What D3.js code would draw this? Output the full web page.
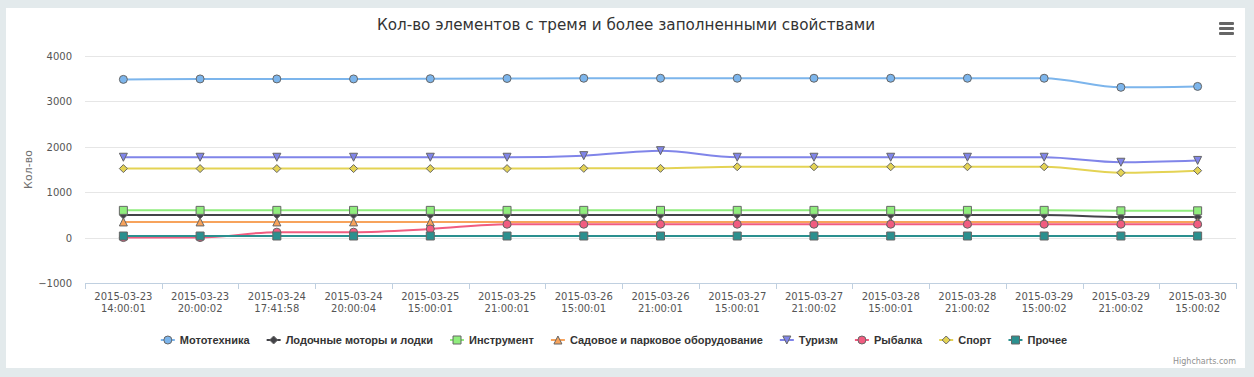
<!DOCTYPE html>
<html>
<head>
<meta charset="utf-8">
<script src="https://cdn.jsdelivr.net/npm/d3@7"></script>
<style>
  html, body { margin: 0; padding: 0; background: #e3eaec; }
  svg { display: block; }
</style>
</head>
<body>
<svg id="chart" width="1254" height="377"></svg>
<script>
// categories (two-line labels)
const dates = ["2015-03-23", "2015-03-23", "2015-03-24", "2015-03-24", "2015-03-25", "2015-03-25", "2015-03-26",
    "2015-03-26", "2015-03-27", "2015-03-27", "2015-03-28", "2015-03-28", "2015-03-29", "2015-03-29", "2015-03-30"];
const times = ["14:00:01", "20:00:02", "17:41:58", "20:00:04", "15:00:01", "21:00:01", "15:00:01",
    "21:00:01", "15:00:01", "21:00:02", "15:00:01", "21:00:02", "15:00:02", "21:00:02", "15:00:02"];

const seriesNames = ["Мототехника", "Лодочные моторы и лодки", "Инструмент", "Садовое и парковое оборудование",
    "Туризм", "Рыбалка", "Спорт", "Прочее"];
const seriesColors = ["#7cb5ec", "#434348", "#90ed7d", "#f7a35c", "#8085e9", "#f15c80", "#e4d354", "#2b908f"];
const seriesSymbols = ["circle", "diamond", "square", "triangle", "triangle-down", "circle", "diamond", "square"];

const moto = [3485, 3495, 3495, 3495, 3500, 3505, 3510, 3510, 3510, 3510, 3510, 3510, 3510, 3310, 3330];
const boats = [500, 500, 500, 500, 500, 500, 500, 500, 500, 500, 500, 500, 500, 455, 455];
const tools = [600, 600, 600, 600, 600, 600, 600, 600, 600, 600, 600, 600, 600, 590, 590];
const garden = [345, 345, 345, 345, 345, 345, 345, 345, 345, 345, 345, 345, 345, 345, 345];
const tourism = [1770, 1770, 1770, 1770, 1770, 1770, 1805, 1915, 1770, 1770, 1770, 1770, 1770, 1660, 1700];
const fishing = [0, 0, 120, 120, 190, 295, 295, 295, 295, 295, 295, 295, 295, 295, 295];
const sport = [1520, 1520, 1520, 1520, 1520, 1520, 1525, 1525, 1560, 1560, 1560, 1560, 1560, 1430, 1475];
const other = [35, 35, 35, 35, 35, 35, 35, 35, 35, 35, 35, 35, 35, 35, 35];

const seriesValues = [moto, boats, tools, garden, tourism, fishing, sport, other];
const yTicks = [-1000, 0, 1000, 2000, 3000, 4000];

const svg = d3.select("#chart"),
    W = 1254, H = 377,
    plot = { left: 85, right: 1236, top: 56, bottom: 283 },
    font = "'DejaVu Sans', Verdana, sans-serif";

// white panel
svg.append("rect")
    .attr("x", 6).attr("y", 8)
    .attr("width", 1239).attr("height", 360)
    .attr("fill", "#fff");

const x = d3.scaleBand()
    .domain(d3.range(dates.length))
    .range([plot.left, plot.right]);
const y = d3.scaleLinear()
    .domain([-1000, 4000])
    .range([plot.bottom, plot.top]);

// title
svg.append("text")
    .attr("x", 626).attr("y", 30)
    .attr("text-anchor", "middle")
    .attr("font-family", font)
    .attr("font-size", 15.2)
    .attr("fill", "#333")
    .text("Кол-во элементов с тремя и более заполненными свойствами");

// export menu icon
[0, 5, 10].forEach(dy => {
    svg.append("rect")
        .attr("x", 1219).attr("y", 22 + dy)
        .attr("width", 15).attr("height", 3)
        .attr("rx", 1)
        .attr("fill", "#666");
});

// grid lines
svg.append("g").selectAll("line")
    .data(yTicks.filter(t => t !== -1000))
    .enter().append("line")
    .attr("x1", plot.left).attr("x2", plot.right)
    .attr("y1", d => Math.round(y(d)) + 0.5).attr("y2", d => Math.round(y(d)) + 0.5)
    .attr("stroke", "#e6e6e6")
    .attr("stroke-width", 1);

// y labels
svg.append("g").selectAll("text")
    .data(yTicks)
    .enter().append("text")
    .attr("x", 72)
    .attr("y", d => y(d) + 4)
    .attr("text-anchor", "end")
    .attr("font-family", font)
    .attr("font-size", 10)
    .attr("fill", "#555")
    .text(d => d === -1000 ? "−1000" : d);

// y axis title
svg.append("text")
    .attr("transform", "translate(32," + ((plot.top + plot.bottom) / 2) + ") rotate(-90)")
    .attr("text-anchor", "middle")
    .attr("font-family", font)
    .attr("font-size", 11)
    .attr("fill", "#707070")
    .text("Кол-во");

// x axis
const xAxis = svg.append("g");
xAxis.append("line")
    .attr("x1", plot.left).attr("x2", plot.right)
    .attr("y1", plot.bottom + 0.5).attr("y2", plot.bottom + 0.5)
    .attr("stroke", "#C0D0E0");
xAxis.selectAll("line.tick")
    .data(d3.range(dates.length + 1))
    .enter().append("line")
    .attr("class", "tick")
    .attr("x1", i => Math.round(plot.left + i * x.step()) + 0.5)
    .attr("x2", i => Math.round(plot.left + i * x.step()) + 0.5)
    .attr("y1", plot.bottom).attr("y2", plot.bottom + 6)
    .attr("stroke", "#C0D0E0");
const xl = xAxis.selectAll("text")
    .data(d3.range(dates.length))
    .enter().append("text")
    .attr("text-anchor", "middle")
    .attr("font-family", font)
    .attr("font-size", 10)
    .attr("fill", "#555");
xl.append("tspan")
    .attr("x", i => x(i) + x.bandwidth() / 2)
    .attr("y", 300)
    .text(i => dates[i]);
xl.append("tspan")
    .attr("x", i => x(i) + x.bandwidth() / 2)
    .attr("y", 312)
    .text(i => times[i]);

// symbols
function symbolPath(sym, r) {
    switch (sym) {
        case "circle": return d3.symbol(d3.symbolCircle, Math.PI * r * r)();
        case "square": return `M${-r},${-r}H${r}V${r}H${-r}Z`;
        case "diamond": return `M0,${-r}L${r},0L0,${r}L${-r},0Z`;
        case "triangle": return `M0,${-r}L${r},${r}L${-r},${r}Z`;
        case "triangle-down": return `M${-r},${-r}L${r},${-r}L0,${r}Z`;
    }
}

const line = d3.line()
    .x((d, i) => x(i) + x.bandwidth() / 2)
    .y(d => y(d))
    .curve(d3.curveMonotoneX);

const seriesG = svg.append("g");
seriesValues.forEach((vals, s) => {
    const g = seriesG.append("g");
    g.append("path")
        .attr("d", line(vals))
        .attr("fill", "none")
        .attr("stroke", seriesColors[s])
        .attr("stroke-width", 2);
    g.selectAll("path.marker")
        .data(vals)
        .enter().append("path")
        .attr("class", "marker")
        .attr("transform", (d, i) => `translate(${x(i) + x.bandwidth() / 2},${y(d)})`)
        .attr("d", symbolPath(seriesSymbols[s], 4))
        .attr("fill", seriesColors[s])
        .attr("stroke", "#666")
        .attr("stroke-width", 1);
});

// legend
const legend = svg.append("g");
const items = legend.selectAll("g")
    .data(seriesNames)
    .enter().append("g");
items.append("line")
    .attr("x1", 0).attr("x2", 14)
    .attr("y1", 0).attr("y2", 0)
    .attr("stroke", (d, i) => seriesColors[i])
    .attr("stroke-width", 2);
items.append("path")
    .attr("transform", "translate(7,0)")
    .attr("d", (d, i) => symbolPath(seriesSymbols[i], 4))
    .attr("fill", (d, i) => seriesColors[i])
    .attr("stroke", "#666")
    .attr("stroke-width", 1);
items.append("text")
    .attr("x", 19)
    .attr("y", 4)
    .attr("font-family", "'Liberation Sans', Arial, sans-serif")
    .attr("font-weight", "bold")
    .attr("font-size", 11)
    .attr("fill", "#333")
    .text(d => d);
let lx = 0;
const offs = [];
items.each(function () {
    offs.push(lx);
    lx += 19 + this.querySelector("text").getComputedTextLength() + 17;
});
const legendW = lx - 17,
    lx0 = 614 - legendW / 2;
items.attr("transform", (d, i) => `translate(${lx0 + offs[i]},340)`);

// credits
svg.append("text")
    .attr("x", 1236).attr("y", 364)
    .attr("text-anchor", "end")
    .attr("font-family", font)
    .attr("font-size", 8)
    .attr("fill", "#909090")
    .text("Highcharts.com");
</script>
</body>
</html>
